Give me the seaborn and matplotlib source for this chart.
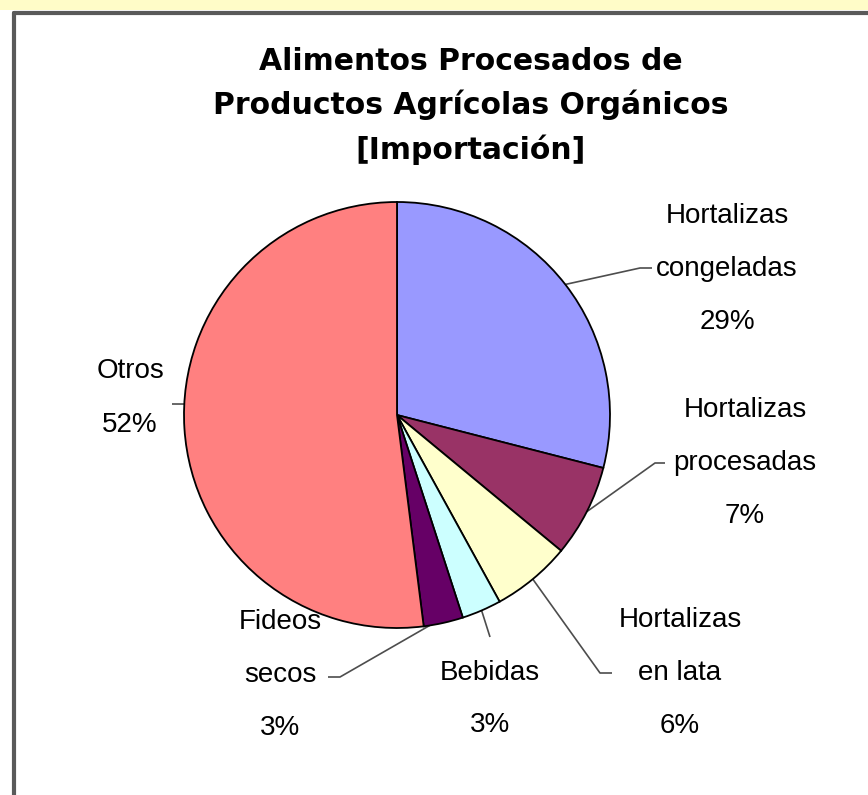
import numpy as np
import matplotlib
matplotlib.use("Agg")
import matplotlib.pyplot as plt
import seaborn as sns
from matplotlib.patches import Rectangle
from matplotlib.lines import Line2D

# data
labels = ["Hortalizas\ncongeladas", "Hortalizas\nprocesadas", "Hortalizas\nen lata",
          "Bebidas", "Fideos\nsecos", "Otros"]
shares = [29, 7, 6, 3, 3, 52]
colors = ["#9999FF", "#993366", "#FFFFCC", "#CCFFFF", "#660066", "#FF8080"]
title = "Alimentos Procesados de\nProductos Agrícolas Orgánicos\n[Importación]"

# where each leader line touches the wedge (fraction along the wedge)
anchor_frac = [0.5, 0.5, 0.5, 0.5, 0.85, 0.535]
# label centre and line elbow, in pixels of the 868x795 picture
label_px = [(727, 269), (745, 463), (680, 673), (490, 699), (280, 675), (130, 398)]
elbow_px = [(640, 268), (655, 463), (600, 673), (490, 637), (340, 677), (172, 404)]
end_px = [(652, 268), (665, 463), (612, 673), (490, 637), (328, 677), (172, 404)]

sns.set_theme(style="white")
plt.rcParams["font.family"] = ["Liberation Sans", "DejaVu Sans"]

W, H = 868, 795
CX, CY, R = 397, 415, 213


def to_data(p):
    return ((p[0] - CX) / R, (CY - p[1]) / R)


fig = plt.figure(figsize=(W / 100, H / 100), dpi=100)
fig.patch.set_facecolor("white")
ax = fig.add_axes([0, 0, 1, 1])

pal = sns.color_palette(colors)
ax.pie(shares, colors=pal, startangle=90, counterclock=False, radius=1,
       wedgeprops=dict(edgecolor="black", linewidth=1.3))
ax.set_xlim(-CX / R, (W - CX) / R)
ax.set_ylim(-(H - CY) / R, CY / R)
ax.axis("off")

# labels and leader lines
total = sum(shares)
cum = np.cumsum([0] + shares[:-1])
for i, lab in enumerate(labels):
    ang = np.deg2rad(90 - 360 * (cum[i] + anchor_frac[i] * shares[i]) / total)
    x0, y0 = np.cos(ang), np.sin(ang)
    ex, ey = to_data(elbow_px[i])
    nx, ny = to_data(end_px[i])
    ax.plot([x0, ex, nx], [y0, ey, ny], color="#4d4d4d", lw=1.2,
            solid_capstyle="butt", zorder=0)
    tx, ty = to_data(label_px[i])
    ax.text(tx, ty, f"{lab}\n{shares[i]}%", ha="center", va="center",
            fontsize=20, linespacing=2.35, color="black")

fig.text(471 / W, 1 - 106 / H, title, ha="center", va="center",
         fontsize=21.5, fontweight="bold", linespacing=1.58,
         color="black", family=["DejaVu Sans"])

# frame: yellow strip on top and grey border lines
fig.add_artist(Rectangle((0, 1 - 10 / H), 1, 10 / H, transform=fig.transFigure,
                         facecolor="#FFFCC8", edgecolor="none"))
fig.add_artist(Line2D([14 / W, 1], [1 - 12.5 / H, 1 - 12.5 / H],
                      transform=fig.transFigure, color="#5a5a5a", lw=3))
fig.add_artist(Line2D([14 / W, 14 / W], [0, 1 - 12.5 / H],
                      transform=fig.transFigure, color="#5a5a5a", lw=3))

fig.savefig("out.png", dpi=100)
